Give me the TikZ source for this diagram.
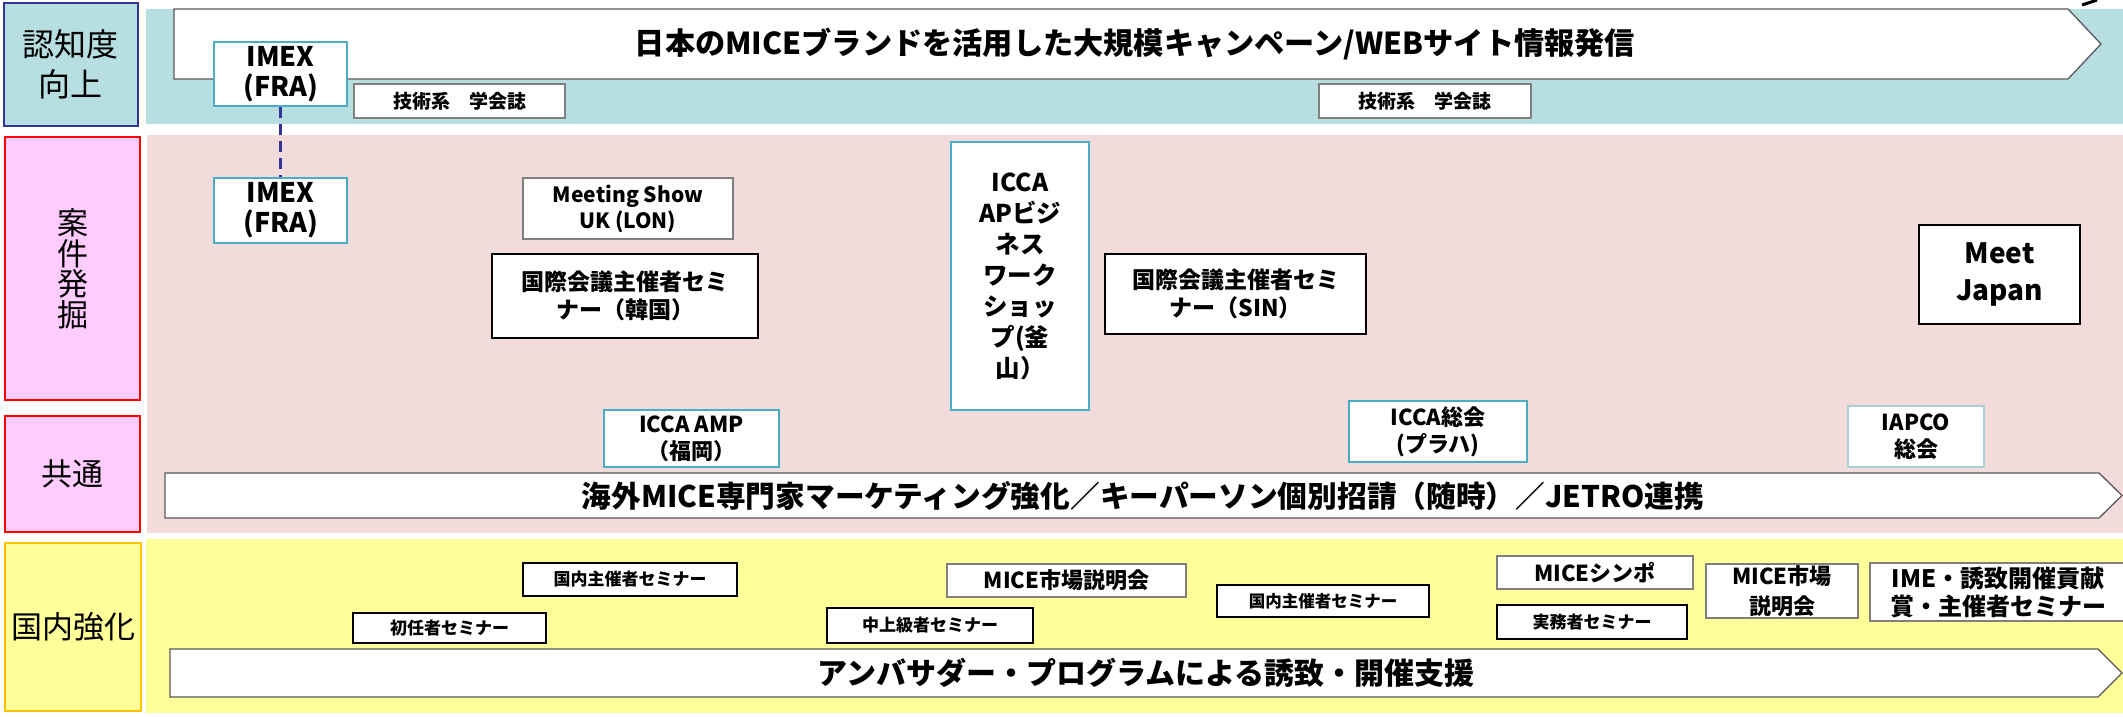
\documentclass[tikz,border=0pt]{standalone}
\usepackage{fontspec}
\setmainfont{Noto Sans CJK JP}
\definecolor{tealbg}{HTML}{B7DEE1}
\definecolor{pinkbg}{HTML}{F2DCDB}
\definecolor{yelbg}{HTML}{FFFF99}
\definecolor{labpink}{HTML}{FFCCFF}
\definecolor{navy}{HTML}{333399}
\definecolor{gold}{HTML}{FFC000}
\definecolor{iccablue}{HTML}{4BACC6}
\definecolor{iapco}{HTML}{A9CFD8}
\definecolor{edgegray}{HTML}{7F7F7F}
\definecolor{arrowedge}{HTML}{595959}
\newcommand{\fsz}[2]{\fontsize{#1}{#2}\selectfont}
\tikzset{
  box/.style={draw, fill=white, inner sep=0pt, align=center, font=\bfseries},
  blackbox/.style={box, draw=black, line width=2.5},
  bluebox/.style={box, draw=iccablue, line width=2.5},
  graybox/.style={box, draw=edgegray, line width=1.2},
  labbox/.style={draw, line width=2.5, align=center, inner sep=0pt},
  arrowshape/.style={draw=arrowedge, fill=white, line width=1.3},
  arrowtext/.style={inner sep=0pt, font=\bfseries\fsz{30}{36}},
}
\begin{document}
\begin{tikzpicture}[x=1pt,y=-1pt]
\useasboundingbox[fill=white] (0,0) rectangle (2123,716);
% bands
\fill[tealbg] (146,9) rectangle (2123,124);
\fill[pinkbg] (147,135) rectangle (2123,533);
\fill[yelbg] (146,539) rectangle (2123,713);
% left labels
\node[labbox, draw=navy, fill=tealbg, minimum width=134, minimum height=123, font=\fsz{32}{40}] (l1) at (71,64.5) {認知度\\向上};
\node[labbox, draw=red, fill=labpink, minimum width=135, minimum height=263, font=\fsz{31}{30.5}] (l2) at (72.5,268.5) {案\\件\\発\\掘};
\node[labbox, draw=red, fill=labpink, minimum width=135, minimum height=116, font=\fsz{31}{38}] (l3) at (72.5,474) {共通};
\node[labbox, draw=gold, fill=yelbg, minimum width=136, minimum height=168, font=\fsz{31}{38}] (l4) at (73,627) {国内強化};
% top arrow
\draw[arrowshape] (174,9) -- (2068,9) -- (2101,44) -- (2068,79) -- (174,79) -- cycle;
\node[arrowtext, font=\bfseries\fsz{30.2}{36}] (t1) at (1135,44) {日本のMICEブランドを活用した大規模キャンペーン/WEBサイト情報発信};
\draw[line width=3] (2082,5) -- (2097,0);
\node[graybox, minimum width=211, minimum height=34, font=\bfseries\fsz{19}{22}] (g1) at (459.5,101) {技術系　学会誌};
\node[graybox, minimum width=212, minimum height=34, font=\bfseries\fsz{19}{22}] (g2) at (1425,101) {技術系　学会誌};
\node[bluebox, minimum width=133, minimum height=64, font=\bfseries\fsz{27}{30}] (imex1) at (280.5,74) {IMEX\\(FRA)};
% pink section
\node[bluebox, minimum width=133, minimum height=65, font=\bfseries\fsz{27}{30}] (imex2) at (280.5,210.5) {IMEX\\(FRA)};
\draw[navy, line width=3.5, dash pattern=on 11pt off 6pt] (imex1.south) -- (imex2.north);
\node[graybox, minimum width=210, minimum height=61, font=\bfseries\fsz{21}{26}] (ms) at (628,208.5) {Meeting Show\\UK (LON)};
\node[blackbox, minimum width=266, minimum height=84, font=\bfseries\fsz{23}{28}] (kr) at (625,296) {国際会議主催者セミ\\ナー（韓国）};
\node[bluebox, minimum width=138, minimum height=268, font=\bfseries\fsz{24.5}{31}] (ap) at (1020,276) {ICCA\\APビジ\\ネス\\ワーク\\ショッ\\プ(釜\\山）};
\node[blackbox, minimum width=261, minimum height=80, font=\bfseries\fsz{23}{28}] (sin) at (1235.5,294) {国際会議主催者セミ\\ナー（SIN）};
\node[blackbox, minimum width=161, minimum height=99, font=\bfseries\fsz{28}{37}] (mj) at (1999.5,274.5) {Meet\\Japan};
\node[bluebox, minimum width=175, minimum height=57, font=\bfseries\fsz{22}{27}] (amp) at (691.5,438.5) {ICCA AMP\\（福岡）};
\node[bluebox, minimum width=178, minimum height=61, font=\bfseries\fsz{22}{27}] (sk) at (1438,431.5) {ICCA総会\\(プラハ)};
\node[box, draw=iapco, line width=1.5, minimum width=136, minimum height=61, font=\bfseries\fsz{22}{27}] (iapco) at (1916,436.5) {IAPCO\\総会};
% common arrow
\draw[arrowshape] (165,473) -- (2099,473) -- (2122,495.5) -- (2099,518) -- (165,518) -- cycle;
\node[arrowtext, font=\bfseries\fsz{29.7}{36}] (t2) at (1143,495.5) {海外MICE専門家マーケティング強化／キーパーソン個別招請（随時）／JETRO連携};
% yellow section
\node[blackbox, minimum width=214, minimum height=33, font=\bfseries\fsz{17}{20}] (d1) at (630,579.5) {国内主催者セミナー};
\node[blackbox, minimum width=193, minimum height=30, font=\bfseries\fsz{17}{20}] (d2) at (449.5,628) {初任者セミナー};
\node[graybox, minimum width=239, minimum height=33, font=\bfseries\fsz{22}{26}] (d3) at (1066.5,580.5) {MICE市場説明会};
\node[blackbox, minimum width=206, minimum height=35, font=\bfseries\fsz{17}{20}] (d4) at (930,625.5) {中上級者セミナー};
\node[blackbox, minimum width=212, minimum height=32, font=\bfseries\fsz{16.5}{20}] (d5) at (1323,601) {国内主催者セミナー};
\node[graybox, minimum width=196, minimum height=33, font=\bfseries\fsz{22}{26}] (d6) at (1595,572.5) {MICEシンポ};
\node[blackbox, minimum width=190, minimum height=34, font=\bfseries\fsz{17}{20}] (d7) at (1592,622) {実務者セミナー};
\node[graybox, minimum width=152, minimum height=54, font=\bfseries\fsz{22}{30}] (d8) at (1782,591) {MICE市場\\説明会};
\node[graybox, minimum width=256, minimum height=58, font=\bfseries\fsz{24}{28}] (d9) at (1998,592) {IME・誘致開催貢献\\賞・主催者セミナー};
% bottom arrow
\draw[arrowshape] (170,649) -- (2098,649) -- (2122,673) -- (2098,697) -- (170,697) -- cycle;
\node[arrowtext] (t3) at (1146,673) {アンバサダー・プログラムによる誘致・開催支援};
\end{tikzpicture}
\end{document}
